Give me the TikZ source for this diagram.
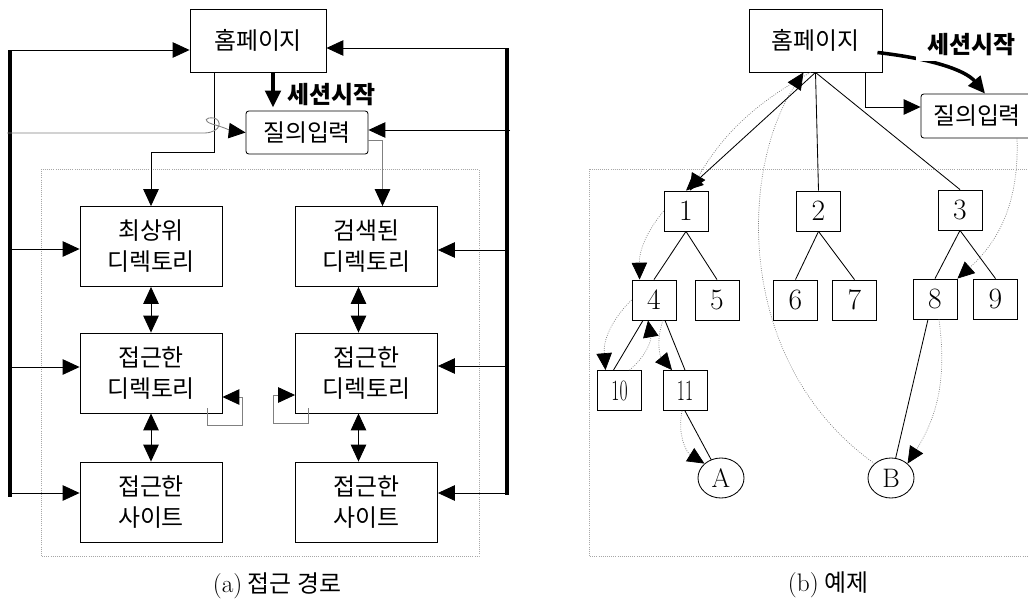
\documentclass[tikz,border=0pt]{standalone}
\usepackage{fontspec}
\newfontfamily\kr{Noto Sans CJK KR}
\usetikzlibrary{arrows.meta,shapes.geometric}

\begin{document}
\begin{tikzpicture}[x=0.025cm,y=-0.025cm,
	every node/.style={font=\kr\fontsize{17}{22}\selectfont},
	box/.style={draw,line width=0.6pt,align=center,minimum width=3.55cm,minimum height=2cm,inner sep=0pt},
	home/.style={draw,line width=0.6pt,minimum width=3.4cm,minimum height=1.575cm},
	query/.style={draw,line width=0.6pt,rounded corners=2pt,minimum width=3.05cm,minimum height=1.075cm},
	num/.style={draw,line width=0.6pt,minimum width=1.1cm,minimum height=1cm,inner sep=0pt,font=\fontsize{21}{24}\selectfont},
	leaf/.style={draw,ellipse,line width=0.6pt,minimum width=1.15cm,minimum height=1cm,inner sep=0pt,font=\fontsize{19}{20}\selectfont},
	session/.style={font=\kr\bfseries\fontsize{17}{22}\selectfont},
	arr/.style={-{Triangle[length=12pt,width=11pt,color=black]},line width=0.6pt},
	darr/.style={{Triangle[length=12pt,width=11pt]}-{Triangle[length=12pt,width=11pt]},line width=0.6pt},
	bar/.style={line width=2.5pt},
	faint/.style={arr,draw=gray},
	trail/.style={arr,densely dotted,line width=0.5pt,every edge/.style={draw=gray}},
	frame/.style={draw=gray!70,densely dotted,line width=0.5pt}]
	\useasboundingbox (0,0) rectangle (1028,605);

	% (a) access path
	\draw[frame] (41,169) rectangle (479,556);
	\node[home] (homeA) at (258,40.5) {홈페이지};
	\node[query] (queryA) at (307,132.5) {질의입력};
	\node[session,anchor=west,inner sep=0pt] (startA) at (287,95) {세션시작};
	\node[box] (topdir) at (151,246.5) {최상위\\디렉토리};
	\node[box] (hitdir) at (366.5,246.5) {검색된\\디렉토리};
	\node[box] (accL) at (151,373) {접근한\\디렉토리};
	\node[box] (accR) at (366.5,373) {접근한\\디렉토리};
	\node[box] (siteL) at (151,502) {접근한\\사이트};
	\node[box] (siteR) at (366.5,502) {접근한\\사이트};
	\node (capA) at (277,586) {{\rmfamily\fontsize{18}{22}\selectfont(a)} 접근 경로};

	\coordinate (l1) at (10,50); \coordinate (l2) at (10,249);
	\coordinate (l3) at (10,367); \coordinate (l4) at (10,493);
	\coordinate (lb) at (10,497); \coordinate (lq) at (7,133);
	\coordinate (r1) at (507,48); \coordinate (r2) at (507,250);
	\coordinate (r3) at (507,366); \coordinate (r4) at (507,493);
	\coordinate (rb) at (507,495); \coordinate (rq) at (510,130);
	\draw[bar] (l1) -- (lb) (r1) -- (rb);
	\path[arr]
		(l1) edge (l1 -| homeA.west)
		(l2) edge (l2 -| topdir.west)
		(l3) edge (l3 -| accL.west)
		(l4) edge (l4 -| siteL.west)
		(r1) edge (r1 -| homeA.east)
		(r2) edge (r2 -| hitdir.east)
		(r3) edge (r3 -| accR.east)
		(r4) edge (r4 -| siteR.east)
		(rq) edge (rq -| queryA.east);
	\path[darr]
		(topdir) edge (accL)
		(accL) edge (siteL)
		([xshift=-0.2cm]hitdir.south) edge ([xshift=-0.2cm]accR.north)
		([xshift=-0.2cm]accR.south) edge ([xshift=-0.2cm]siteR.north);
	\draw[arr,line width=2.5pt] ([xshift=0.375cm]homeA.south) -- ++(0,-0.875cm);
	\draw[arr] ([xshift=-1.1cm]homeA.south) -- ++(0,-2cm) -| (topdir.north);
	\draw[faint] ([yshift=-0.2cm]queryA.east) -| ([xshift=0.4cm]hitdir.north);
	\draw[faint] (lq) -- (205,133) .. controls (222,132) and (222,120) .. (214,118)
		.. controls (205,117) and (203,121) .. (212,124) .. controls (226,128) and (232,131) .. (queryA.west);
	\draw[faint] ([shift={(-0.375cm,0.125cm)}]accL.south east) |- ++(0.875cm,-0.425cm) |- ([yshift=-0.6cm]accL.east);
	\draw[faint] ([shift={(0.325cm,0.125cm)}]accR.south west) |- ++(-0.875cm,-0.375cm) |- ([yshift=-0.55cm]accR.west);

	% (b) example
	\draw[frame] (589,169) rectangle (1040,556);
	\node[home,minimum width=3.325cm] (homeB) at (815.5,40.5) {홈페이지};
	\node[query,minimum width=2.8cm,minimum height=1.1cm] (queryB) at (977,116) {질의입력};
	\draw[arr,line width=2.5pt] ([shift={(-0.125cm,-0.3cm)}]homeB.east)
		.. controls +(1.3cm,-0.15cm) and +(-0.5cm,0.6cm) .. ([xshift=0.2cm]queryB.north);
	\node[session,fill=white,inner xsep=8pt] (startB) at (971,45) {세션시작};
	\node[num] (n1) at (686,211) {1};
	\node[num] (n2) at (818.5,211) {2};
	\node[num] (n3) at (960,210) {3};
	\node[num] (n4) at (654,300) {4};
	\node[num] (n5) at (717,300) {5};
	\node[num] (n6) at (795.5,300) {6};
	\node[num] (n7) at (854.5,300) {7};
	\node[num] (n8) at (935,299) {8};
	\node[num] (n9) at (995.5,299) {9};
	\node[num] (n10) at (619.5,390.5) {\scalebox{0.6}[1]{10}};
	\node[num] (n11) at (685,390.5) {\scalebox{0.6}[1]{11}};
	\node[leaf] (A) at (721,478) {A};
	\node[leaf] (B) at (891,478) {B};
	\node (capB) at (828,585) {{\rmfamily\fontsize{18}{22}\selectfont(b)} 예제};

	\path[trail]
		([xshift=-0.125cm]homeB.south) edge[bend right=15] ([xshift=0.1cm]n1.north)
		(n1.west) edge[bend right=20] ([xshift=0.2cm]n4.north west)
		(n4.west) edge[bend right=25] ([xshift=-0.35cm]n10.north)
		([xshift=0.25cm]n10.north) edge[bend right=30] ([xshift=-0.15cm]n4.south)
		([xshift=0.225cm]n4.south) edge[bend right=30] ([xshift=-0.325cm]n11.north)
		([xshift=-0.075cm]n11.south) edge[bend right=35] (A.north west)
		([xshift=1cm]queryB.south) edge[bend left=25] (n8.north east)
		([xshift=0.1cm]n8.south) edge[bend left=20] (B.north east);
	\draw[trail,draw=gray] (B.north west) .. controls +(-140,-100) and +(-64,98) .. ([xshift=-0.3cm]homeB.south);
	\path[arr] (homeB.south) edge (n1.north)
		([xshift=1.25cm]homeB.south) edge[to path={|- (\tikztotarget)}] ([yshift=0.225cm]queryB.west);
	\draw[line width=0.6pt]
		(homeB.south) edge (n2.north) edge (n3.north)
		(n1.south) edge (n4.north) edge (n5.north)
		(n2.south) edge (n6.north) edge (n7.north)
		(n3.south) edge (n8.north) edge (n9.north)
		([xshift=-0.275cm]n4.south) edge ([xshift=-0.15cm]n10.north)
		([xshift=0.275cm]n4.south) edge (n11.north)
		(n11.south) edge (A)
		([xshift=-0.175cm]n8.south) edge (B);
\end{tikzpicture}
\end{document}
